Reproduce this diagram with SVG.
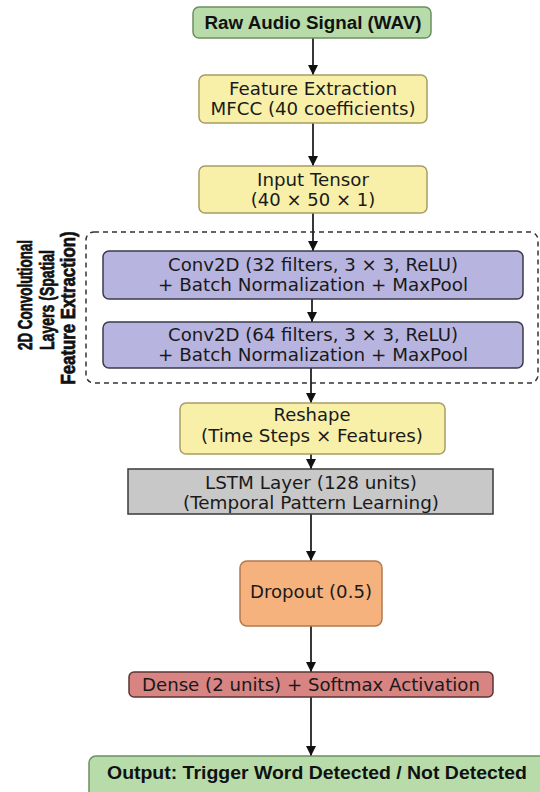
<svg xmlns="http://www.w3.org/2000/svg" width="540" height="792" viewBox="0 0 540 792">
<defs>
<marker id="arr" viewBox="0 0 10 10" refX="10" refY="5" markerWidth="10" markerHeight="10" markerUnits="userSpaceOnUse" orient="auto">
<path d="M0,0 L10,5 L0,10 Z" fill="#111"/>
</marker>
<style>
.t{font-family:"DejaVu Sans","Liberation Sans",sans-serif;font-size:18px;fill:#1a1a1a;text-anchor:middle}
.b{font-family:"Liberation Sans","Arial",sans-serif;font-weight:bold;font-size:18px;fill:#111;text-anchor:middle}
.r{font-family:"Liberation Sans","Arial",sans-serif;font-weight:bold;font-size:20px;fill:#111;stroke:#111;stroke-width:0.7;text-anchor:middle}
.green{fill:#b7dcaa;stroke:#6c8f62;stroke-width:1.5}
.yellow{fill:#f8f0a8;stroke:#a89d62;stroke-width:1.5}
.purple{fill:#b8b4e0;stroke:#3a3a4c;stroke-width:1.5}
.gray{fill:#c8c8c8;stroke:#3a3a3a;stroke-width:1.5}
.orange{fill:#f6b27c;stroke:#b07a50;stroke-width:1.5}
.red{fill:#d88482;stroke:#5a3434;stroke-width:1.5}
.c{stroke:#222;stroke-width:1.8;fill:none;marker-end:url(#arr)}
</style>
</defs>
<rect width="540" height="792" fill="#ffffff"/>

<g id="cluster">
<rect x="86" y="232" width="452" height="151" rx="8" fill="none" stroke="#333" stroke-width="1.5" stroke-dasharray="5,4"/>
<g transform="translate(25,295) rotate(-90)"><text class="r" x="0" y="7" textLength="110" lengthAdjust="spacingAndGlyphs">2D Convolutional</text></g>
<g transform="translate(47,300) rotate(-90)"><text class="r" x="0" y="7" textLength="100" lengthAdjust="spacingAndGlyphs">Layers (Spatial</text></g>
<g transform="translate(68,308) rotate(-90)"><text class="r" x="0" y="7" textLength="153" lengthAdjust="spacingAndGlyphs">Feature Extraction)</text></g>
</g>

<g id="connectors">
<line class="c" x1="313" y1="38" x2="313" y2="75"/>
<line class="c" x1="313" y1="123" x2="313" y2="166"/>
<line class="c" x1="313" y1="213" x2="313" y2="251"/>
<line class="c" x1="312" y1="299" x2="312" y2="322"/>
<line class="c" x1="311" y1="368" x2="311" y2="403"/>
<line class="c" x1="311" y1="454" x2="311" y2="469"/>
<line class="c" x1="311" y1="514" x2="311" y2="561"/>
<line class="c" x1="311" y1="626" x2="311" y2="672"/>
<line class="c" x1="311" y1="697" x2="311" y2="756"/>
</g>

<g id="raw">
<rect class="green" x="193" y="7" width="238" height="31" rx="6"/>
<text class="b" x="313" y="29" textLength="217" lengthAdjust="spacingAndGlyphs">Raw Audio Signal (WAV)</text>
</g>

<g id="feature">
<rect class="yellow" x="199" y="75" width="228" height="48" rx="6"/>
<text class="t" x="313" y="95" textLength="168" lengthAdjust="spacingAndGlyphs">Feature Extraction</text>
<text class="t" x="313" y="115" textLength="205" lengthAdjust="spacingAndGlyphs">MFCC (40 coefficients)</text>
</g>

<g id="input">
<rect class="yellow" x="199" y="166" width="228" height="47" rx="6"/>
<text class="t" x="313" y="186" textLength="112" lengthAdjust="spacingAndGlyphs">Input Tensor</text>
<text class="t" x="313" y="206">(40 × 50 × 1)</text>
</g>

<g id="conv1">
<rect class="purple" x="103" y="251" width="420" height="48" rx="6"/>
<text class="t" x="313" y="271" textLength="290" lengthAdjust="spacingAndGlyphs">Conv2D (32 filters, 3 × 3, ReLU)</text>
<text class="t" x="313" y="291" textLength="310" lengthAdjust="spacingAndGlyphs">+ Batch Normalization + MaxPool</text>
</g>

<g id="conv2">
<rect class="purple" x="103" y="322" width="420" height="46" rx="6"/>
<text class="t" x="313" y="341" textLength="290" lengthAdjust="spacingAndGlyphs">Conv2D (64 filters, 3 × 3, ReLU)</text>
<text class="t" x="313" y="361" textLength="310" lengthAdjust="spacingAndGlyphs">+ Batch Normalization + MaxPool</text>
</g>

<g id="reshape">
<rect class="yellow" x="180" y="403" width="265" height="51" rx="6"/>
<text class="t" x="312" y="421" textLength="77" lengthAdjust="spacingAndGlyphs">Reshape</text>
<text class="t" x="312" y="442" textLength="222" lengthAdjust="spacingAndGlyphs">(Time Steps × Features)</text>
</g>

<g id="lstm">
<rect class="gray" x="128" y="469" width="365" height="45"/>
<text class="t" x="311" y="489" textLength="212" lengthAdjust="spacingAndGlyphs">LSTM Layer (128 units)</text>
<text class="t" x="311" y="509" textLength="256" lengthAdjust="spacingAndGlyphs">(Temporal Pattern Learning)</text>
</g>

<g id="dropout">
<rect class="orange" x="240" y="561" width="142" height="65" rx="7"/>
<text class="t" x="311" y="598" textLength="122" lengthAdjust="spacingAndGlyphs">Dropout (0.5)</text>
</g>

<g id="dense">
<rect class="red" x="129" y="672" width="364" height="25" rx="5"/>
<text class="t" x="311" y="691" textLength="338" lengthAdjust="spacingAndGlyphs">Dense (2 units) + Softmax Activation</text>
</g>

<g id="output">
<rect class="green" x="89" y="756" width="460" height="50" rx="7"/>
<text class="b" x="317" y="779" textLength="420" lengthAdjust="spacingAndGlyphs">Output: Trigger Word Detected / Not Detected</text>
</g>
</svg>
